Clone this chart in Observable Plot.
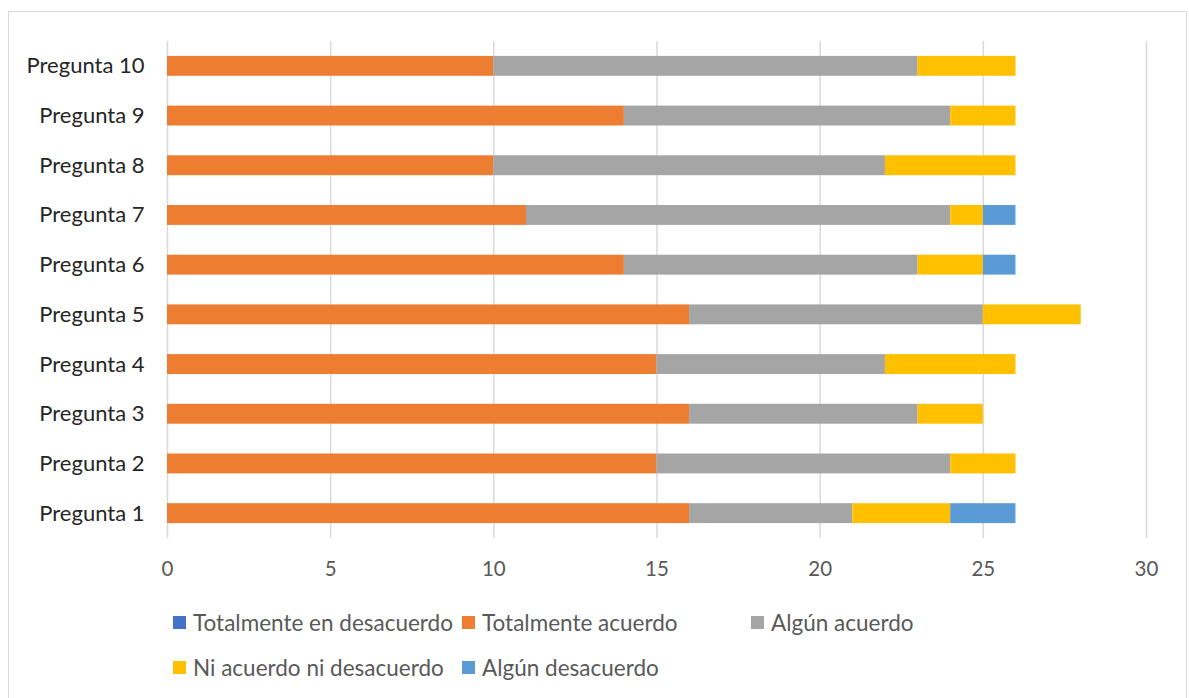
<!DOCTYPE html>
<html>
<head>
<meta charset="utf-8">
<script src="https://cdn.jsdelivr.net/npm/d3@7"></script>
<script src="https://cdn.jsdelivr.net/npm/@observablehq/plot@0.6"></script>
<style>
  body { margin: 0; background: #fff; font-family: Lato, "Noto Sans", sans-serif; }
  #wrap { position: relative; width: 1189px; height: 698px; }
  #frame { position: absolute; left: 8px; top: 11px; width: 1179px; height: 690px; border: 1px solid #d9d9d9; box-sizing: border-box; }
  #chart { position: absolute; left: 0; top: 0; }
  #legend { position: absolute; left: 0; top: 0; width: 1189px; height: 698px; pointer-events: none; }
  .li { position: absolute; display: flex; align-items: center; font-size: 22.5px; color: #595959; white-space: nowrap; }
  .sw { width: 13px; height: 13px; margin-right: 7px; flex: none; }
</style>
</head>
<body>
<div id="wrap">
  <div id="frame"></div>
  <div id="chart"></div>
  <div id="legend"></div>
</div>
<script>
const preguntas = ["Pregunta 1","Pregunta 2","Pregunta 3","Pregunta 4","Pregunta 5","Pregunta 6","Pregunta 7","Pregunta 8","Pregunta 9","Pregunta 10"];
const seriesNames = ["Totalmente en desacuerdo","Totalmente acuerdo","Algún acuerdo","Ni acuerdo ni desacuerdo","Algún desacuerdo"];
const seriesColors = ["#4472C4","#ED7D31","#A5A5A5","#FFC000","#5B9BD5"];
const totalmenteDesacuerdo = [0,0,0,0,0,0,0,0,0,0];
const totalmenteAcuerdo   = [16,15,16,15,16,14,11,10,14,10];
const algunAcuerdo        = [5,9,7,7,9,9,13,12,10,13];
const niAcuerdoNiDes      = [3,2,2,4,3,2,1,4,2,3];
const algunDesacuerdo     = [2,0,0,0,0,1,1,0,0,0];
const xTicks = [0,5,10,15,20,25,30];

const seriesValues = [totalmenteDesacuerdo, totalmenteAcuerdo, algunAcuerdo, niAcuerdoNiDes, algunDesacuerdo];
const rows = [];
seriesNames.forEach((s, si) => {
  preguntas.forEach((p, pi) => {
    rows.push({pregunta: p, serie: s, value: seriesValues[si][pi]});
  });
});

const chart = Plot.plot({
  width: 1189,
  height: 600,
  marginTop: 41,
  marginBottom: 62,
  marginLeft: 167,
  marginRight: 43,
  style: {fontFamily: "Lato, 'Noto Sans', sans-serif", background: "transparent"},
  x: {domain: [0, 30], ticks: xTicks, label: null},
  y: {domain: preguntas.slice().reverse(), paddingInner: 0.6, paddingOuter: 0.3, round: false, label: null},
  color: {domain: seriesNames, range: seriesColors},
  marks: [
    Plot.gridX(xTicks, {stroke: "#d9d9d9", strokeOpacity: 1, strokeWidth: 1.5}),
    Plot.barX(rows, Plot.stackX({x: "value", y: "pregunta", fill: "serie", order: seriesNames, insetTop: 0, insetBottom: 0})),
    Plot.axisX(xTicks, {tickSize: 0, tickPadding: 23, fontSize: 20.5, color: "#595959", label: null}),
    Plot.axisY({tickSize: 0, tickPadding: 23, fontSize: 22, color: "#262626", fontWeight: 400, label: null})
  ]
});
document.getElementById("chart").appendChild(chart);

// legend (Excel-style grid)
const legendPos = [[173, 622.5], [462, 622.5], [751, 622.5], [173, 667.5], [462, 667.5]];
const legend = document.getElementById("legend");
seriesNames.forEach((s, i) => {
  const d = document.createElement("div");
  d.className = "li";
  d.style.left = legendPos[i][0] + "px";
  d.style.top = (legendPos[i][1] - 14) + "px";
  d.style.height = "28px";
  const sw = document.createElement("span");
  sw.className = "sw";
  sw.style.background = seriesColors[i];
  const t = document.createElement("span");
  t.textContent = s;
  d.appendChild(sw); d.appendChild(t);
  legend.appendChild(d);
});
</script>
</body>
</html>
